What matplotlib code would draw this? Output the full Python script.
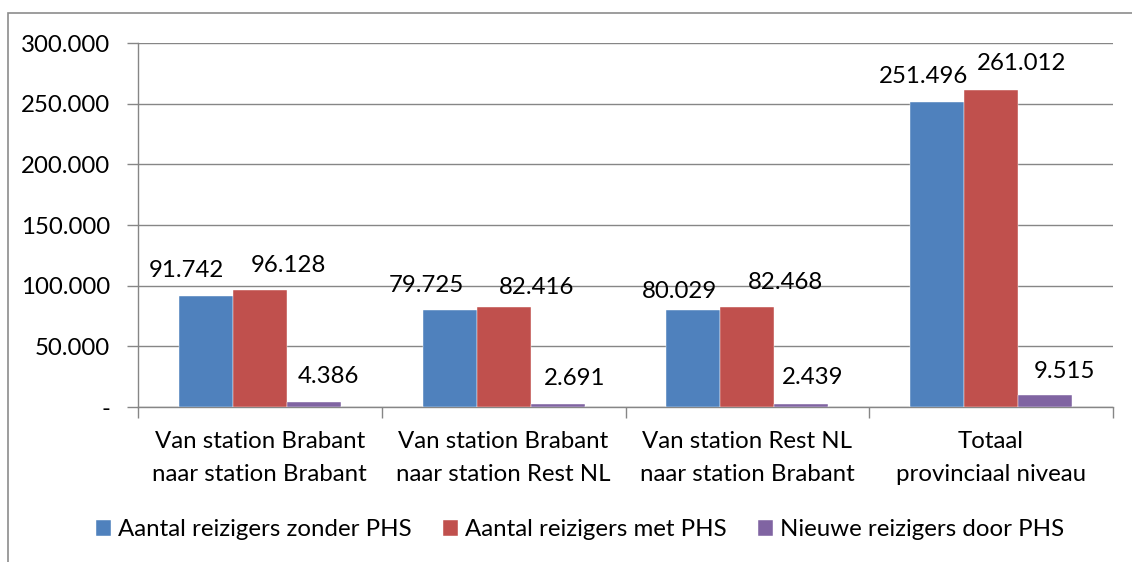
import matplotlib.pyplot as plt
from matplotlib.patches import Rectangle
import numpy as np

plt.rcParams['font.family'] = ['Lato', 'DejaVu Sans']

categories = ['Van station Brabant\nnaar station Brabant',
              'Van station Brabant\nnaar station Rest NL',
              'Van station Rest NL\nnaar station Brabant',
              'Totaal\nprovinciaal niveau']
zonder = [91742, 79725, 80029, 251496]
met = [96128, 82416, 82468, 261012]
nieuw = [4386, 2691, 2439, 9515]
series_names = ['Aantal reizigers zonder PHS', 'Aantal reizigers met PHS',
                'Nieuwe reizigers door PHS']
colors = ['#4F81BD', '#C0504D', '#8064A2']

# label offsets (pixels) from top centre of each bar, as placed in the original
lab_dx = [[-19, -23, -14, -14], [29, 33, 38, 30], [15, 17, 11, 19]]
lab_dy = [[27, 26, 20, 27], [26, 21, 26, 28], [27, 27, 28, 25]]

W, H = 1132, 562
fig = plt.figure(figsize=(W / 100, H / 100), dpi=100)
ax = fig.add_axes([138 / W, (H - 407) / H, (1113 - 138) / W, (407 - 43) / H])

# outer chart border (right/bottom cut off in the original)
fig.patches.append(Rectangle((8 / W, -0.1), 1.2, (H - 13) / H + 0.1,
                             transform=fig.transFigure, fill=False,
                             edgecolor='#8c8c8c', linewidth=1.2))

x = np.arange(len(categories))
w = 0.2215
fs = 17.3
for i, (vals, c) in enumerate(zip([zonder, met, nieuw], colors)):
    xs = x + (i - 1) * w
    ax.bar(xs, vals, width=w, color=c, label=series_names[i], zorder=3,
           edgecolor='white', linewidth=0.3)
    for j, v in enumerate(vals):
        ax.annotate(f'{v:,}'.replace(',', '.'), (xs[j], v),
                    xytext=(lab_dx[i][j], lab_dy[i][j] - 8),
                    textcoords='offset pixels', ha='center', va='baseline',
                    fontsize=fs, zorder=4)

ax.set_xlim(-0.5, 3.5)
ax.set_ylim(0, 300000)
yt = np.arange(0, 300001, 50000)
ax.set_yticks(yt)
ax.set_yticklabels(['-'] + [f'{v:,}'.replace(',', '.') for v in yt[1:]])
ax.yaxis.grid(True, color='#868686', linewidth=1.0, zorder=0)

ax.set_xticks(x)
ax.set_xticklabels(categories, fontsize=fs, linespacing=1.75)
ax.set_xticks(np.arange(-0.5, 4, 1), minor=True)
ax.tick_params(axis='x', which='major', length=0, pad=17)
ax.tick_params(axis='x', which='minor', length=8, color='#868686', width=1.0)
ax.tick_params(axis='y', length=8, color='#868686', width=1.0, pad=12,
               labelsize=fs)

for s in ['top', 'right']:
    ax.spines[s].set_visible(False)
for s in ['left', 'bottom']:
    ax.spines[s].set_color('#868686')
    ax.spines[s].set_linewidth(1.0)

fig.legend(loc='center', bbox_to_anchor=(580 / W, (H - 530) / H), ncol=3,
           frameon=False, fontsize=fs, handlelength=0.62, handleheight=0.62,
           handletextpad=0.3, columnspacing=1.3)

fig.savefig('out.png', dpi=100)
